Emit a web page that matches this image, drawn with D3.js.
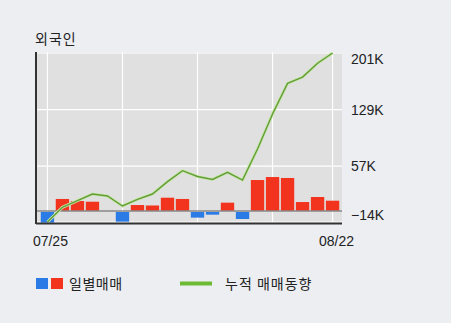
<!DOCTYPE html>
<html>
<head>
<meta charset="utf-8">
<script src="https://cdn.jsdelivr.net/npm/d3@7"></script>
<style>
  body { margin: 0; background: #eceef2; }
  svg { display: block; }
  text { font-family: 'Noto Sans CJK KR', 'Liberation Sans', sans-serif; fill: #222; }
  .num { font-family: 'Liberation Sans', 'DejaVu Sans', sans-serif; }
</style>
</head>
<body>
<svg width="451" height="323"></svg>
<script>
// daily trade dates (trading days only)
var dates = ['07/25', '07/26', '07/29', '07/30', '07/31', '08/01', '08/02', '08/05', '08/06', '08/07',
  '08/08', '08/09', '08/12', '08/13', '08/14', '08/16', '08/19', '08/20', '08/21', '08/22']
// daily net buy (K)
var daily = [-13.5, 15.3, 12.7, 11.8, 0, -12.3, 7.6, 7.0, 16.9, 15.3,
  -7.2, -3.4, 10.6, -8.9, 39.4, 43.2, 42.0, 11.4, 17.8, 13.1]
// cumulative (K)
var cumul = [-14, 4.7, 13.1, 21.6, 19.1, 6.4, 14.9, 21.6, 37.3, 51.3,
  43.9, 40.1, 49.2, 39.4, 78.9, 123.4, 162.4, 170.4, 187.9, 201]
var yTicks = [201, 129, 57, -14]
var xLabels = ['07/25', '08/22']

var svg = d3.select('svg')
var plotL = 36
var plotR = 342
var plotT = 52
var plotB = 224

var x = d3.scaleBand()
  .domain(dates)
  .range([40, 340])
  .paddingInner(0.11)
  .paddingOuter(0.05)

var y = d3.scaleLinear()
  .domain([-14, 201])
  .range([222, 53])

function cx (d) { return x(d) + x.bandwidth() / 2 }

svg.append('text')
  .attr('x', 35)
  .attr('y', 44)
  .style('font-size', '14px')
  .style('letter-spacing', '1px')
  .text('외국인')

svg.append('rect')
  .attr('x', plotL)
  .attr('y', plotT)
  .attr('width', plotR - plotL)
  .attr('height', plotB - plotT)
  .attr('fill', '#e0e0e0')

// horizontal grid
svg.selectAll('.hgrid')
  .data(yTicks)
  .enter()
  .append('line')
  .attr('x1', plotL)
  .attr('x2', plotR)
  .attr('y1', function (d) { return y(d) })
  .attr('y2', function (d) { return y(d) })
  .attr('stroke', '#fff')
  .attr('stroke-width', 1.2)

// vertical grid every 5 days + last
var vIdx = [0, 5, 10, 15, 19]
svg.selectAll('.vgrid')
  .data(vIdx)
  .enter()
  .append('line')
  .attr('x1', function (i) { return cx(dates[i]) })
  .attr('x2', function (i) { return cx(dates[i]) })
  .attr('y1', plotT)
  .attr('y2', plotB)
  .attr('stroke', '#fff')
  .attr('stroke-width', 1.2)

svg.selectAll('.bar')
  .data(daily)
  .enter()
  .append('rect')
  .attr('x', function (d, i) { return x(dates[i]) })
  .attr('width', x.bandwidth())
  .attr('y', function (d) { return d >= 0 ? y(d) : y(0) + 1 })
  .attr('height', function (d) { return Math.abs(y(d) - y(0)) })
  .attr('fill', function (d) { return d >= 0 ? '#f2341f' : '#2b7be6' })

// zero line
svg.append('line')
  .attr('x1', plotL)
  .attr('x2', plotR)
  .attr('y1', y(0))
  .attr('y2', y(0))
  .attr('stroke', '#888')
  .attr('stroke-width', 1.5)

var line = d3.line()
  .x(function (d, i) { return cx(dates[i]) })
  .y(function (d) { return y(d) })

svg.append('path')
  .datum(cumul)
  .attr('d', line)
  .attr('fill', 'none')
  .attr('stroke', '#c9e6a8')
  .attr('stroke-width', 3)

svg.append('path')
  .datum(cumul)
  .attr('d', line)
  .attr('fill', 'none')
  .attr('stroke', '#629e38')
  .attr('stroke-width', 1.4)

// axes lines
svg.append('line')
  .attr('x1', plotL)
  .attr('x2', plotL)
  .attr('y1', plotT)
  .attr('y2', plotB)
  .attr('stroke', '#333')
  .attr('stroke-width', 2)

svg.append('line')
  .attr('x1', plotL)
  .attr('x2', plotR)
  .attr('y1', 223.5)
  .attr('y2', 223.5)
  .attr('stroke', '#333')
  .attr('stroke-width', 2)

// right labels
svg.selectAll('.ylab')
  .data(yTicks)
  .enter()
  .append('text')
  .attr('class', 'num')
  .attr('x', 351)
  .attr('y', function (d) { return Math.min(Math.max(y(d), 59), 215) })
  .attr('dy', '0.36em')
  .style('font-size', '14px')
  .text(function (d) { return (d < 0 ? '\u2212' + (-d) : d) + 'K' })

svg.selectAll('.xlab')
  .data(xLabels)
  .enter()
  .append('text')
  .attr('class', 'num')
  .attr('x', function (d) { return cx(d) + (d === '07/25' ? 3 : 4) })
  .attr('y', 246)
  .attr('text-anchor', 'middle')
  .style('font-size', '14px')
  .text(function (d) { return d })

// legend
svg.append('rect').attr('x', 36).attr('y', 278).attr('width', 12).attr('height', 11).attr('fill', '#2b7be6')
svg.append('rect').attr('x', 51).attr('y', 278).attr('width', 12).attr('height', 11).attr('fill', '#f2341f')
svg.append('text').attr('x', 69).attr('y', 288.5).style('font-size', '14px').style('letter-spacing', '0.5px').text('일별매매')
svg.append('line')
  .attr('x1', 180).attr('x2', 212)
  .attr('y1', 283.5).attr('y2', 283.5)
  .attr('stroke', '#6dbb34')
  .attr('stroke-width', 4)
svg.append('text').attr('x', 225).attr('y', 288.5).style('font-size', '14px').style('letter-spacing', '1px').text('누적 매매동향')
</script>
</body>
</html>
